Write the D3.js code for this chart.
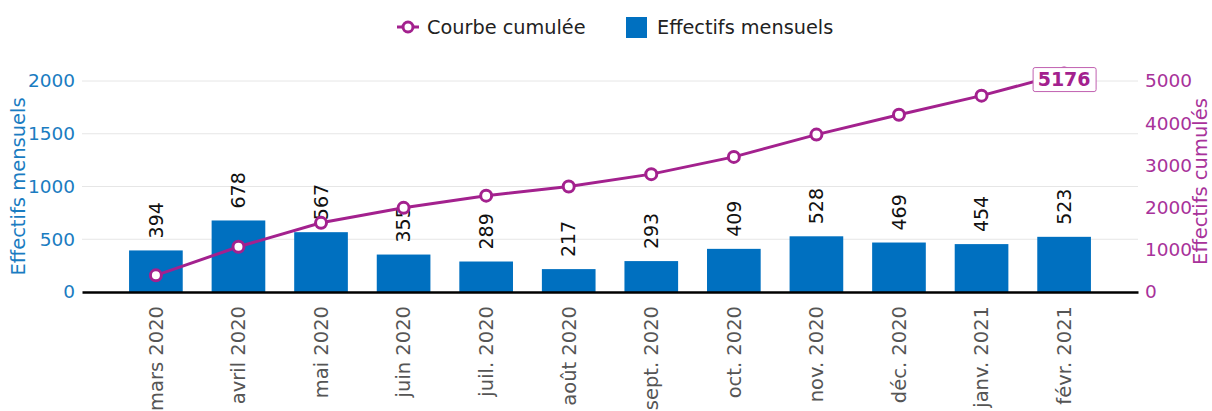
<!DOCTYPE html>
<html>
<head>
<meta charset="utf-8">
<title>Effectifs mensuels et cumulés</title>
<script src="https://cdn.jsdelivr.net/npm/d3@7"></script>
<style>
  body { margin: 0; background: #fff; }
  text { font-family: "DejaVu Sans", sans-serif; }
</style>
</head>
<body>
<script>
// données
var mois = ["mars 2020", "avril 2020", "mai 2020", "juin 2020", "juil. 2020", "août 2020",
            "sept. 2020", "oct. 2020", "nov. 2020", "déc. 2020", "janv. 2021", "févr. 2021"];
var effectifs = [394, 678, 567, 355, 289, 217, 293, 409, 528, 469, 454, 523];
var ticksGauche = [0, 500, 1000, 1500, 2000];
var ticksDroite = [0, 1000, 2000, 3000, 4000, 5000];

var cumul = [];
var total = 0;
effectifs.forEach(function(d) { total += d; cumul.push(total); });

var w = 1212, h = 411;
var bleu = "#0070c0", violet = "#a3218e";
var mLeft = 82, mRight = 1138, mTop = 81, mBottom = 292;

var svg = d3.select("body").append("svg")
  .attr("width", w).attr("height", h);

var x = d3.scaleBand().domain(mois).range([mLeft, mRight])
  .paddingInner(0.35).paddingOuter(0.57);
var yL = d3.scaleLinear().domain([0, 2000]).range([mBottom, mTop]);
var yR = d3.scaleLinear().domain([0, 5000]).range([mBottom, mTop]);

// grille
svg.append("g").selectAll("line").data(ticksGauche.slice(1)).enter().append("line")
  .attr("x1", mLeft).attr("x2", mRight)
  .attr("y1", function(d) { return yL(d); }).attr("y2", function(d) { return yL(d); })
  .attr("stroke", "#e6e6e6").attr("stroke-width", 1);

// axe gauche
var axG = svg.append("g").attr("transform", "translate(" + mLeft + ",0)")
  .call(d3.axisLeft(yL).tickValues(ticksGauche).tickFormat(d3.format("d"))
    .tickSize(0).tickPadding(7));
axG.select(".domain").remove();
axG.selectAll("text").attr("fill", "#1a7cc1").attr("font-size", 18.5)
  .style("font-family", "DejaVu Sans");

// axe droit
var axD = svg.append("g").attr("transform", "translate(" + mRight + ",0)")
  .call(d3.axisRight(yR).tickValues(ticksDroite).tickFormat(d3.format("d"))
    .tickSize(0).tickPadding(7));
axD.select(".domain").remove();
axD.selectAll("text").attr("fill", "#a8329a").attr("font-size", 18.5)
  .style("font-family", "DejaVu Sans");

// titres des axes
svg.append("text").attr("transform", "translate(25," + ((mTop + mBottom) / 2) + ") rotate(-90)")
  .attr("text-anchor", "middle").attr("font-size", 19.5).attr("fill", "#1a7cc1")
  .text("Effectifs mensuels");
svg.append("text").attr("transform", "translate(1207," + ((mTop + mBottom) / 2 - 5) + ") rotate(-90)")
  .attr("text-anchor", "middle").attr("font-size", 19.5).attr("fill", "#a8329a")
  .text("Effectifs cumulés");

// barres
svg.selectAll("rect.bar").data(effectifs).enter().append("rect")
  .attr("class", "bar")
  .attr("x", function(d, i) { return x(mois[i]); })
  .attr("y", function(d) { return yL(d); })
  .attr("width", x.bandwidth())
  .attr("height", function(d) { return mBottom - yL(d); })
  .attr("fill", bleu);

// axe x
var axX = svg.append("g").attr("transform", "translate(0," + mBottom + ")")
  .call(d3.axisBottom(x).tickSize(0).tickPadding(0));
axX.select(".domain").attr("stroke", "#000").attr("stroke-width", 2.5);
axX.selectAll("text")
  .attr("transform", "rotate(-90)")
  .attr("text-anchor", "end")
  .attr("x", -14).attr("y", 0).attr("dy", "0.35em")
  .attr("fill", "#555").attr("font-size", 19.5)
  .style("font-family", "DejaVu Sans");

// étiquettes des barres
svg.selectAll("text.val").data(effectifs).enter().append("text")
  .attr("class", "val")
  .attr("transform", function(d, i) {
    return "translate(" + (x(mois[i]) + x.bandwidth() / 2) + "," + (yL(d) - 12) + ") rotate(-90)";
  })
  .attr("dy", "0.35em")
  .attr("font-size", 19).attr("fill", "#111")
  .text(function(d) { return d; });

// courbe cumulée
var line = d3.line()
  .x(function(d, i) { return x(mois[i]) + x.bandwidth() / 2; })
  .y(function(d) { return yR(d); });
svg.append("path").datum(cumul)
  .attr("d", line).attr("fill", "none")
  .attr("stroke", violet).attr("stroke-width", 3);
svg.selectAll("circle.pt").data(cumul).enter().append("circle")
  .attr("class", "pt")
  .attr("cx", function(d, i) { return x(mois[i]) + x.bandwidth() / 2; })
  .attr("cy", function(d) { return yR(d); })
  .attr("r", 5.5)
  .attr("fill", "#fff").attr("stroke", violet).attr("stroke-width", 3);

// étiquette de la dernière valeur
var last = cumul.length - 1;
var lx = x(mois[last]) + x.bandwidth() / 2, ly = yR(cumul[last]) + 6;
var lab = svg.append("g").attr("transform", "translate(" + lx + "," + ly + ")");
lab.append("rect").attr("x", -31).attr("y", -12).attr("width", 63).attr("height", 24)
  .attr("rx", 2).attr("fill", "#fff").attr("stroke", "#c060b0").attr("stroke-width", 1);
lab.append("text").attr("text-anchor", "middle").attr("dy", "0.35em")
  .attr("font-size", 19).attr("font-weight", "bold").attr("fill", violet)
  .text(cumul[last]);

// légende
var lg = svg.append("g");
lg.append("line").attr("x1", 397).attr("x2", 419).attr("y1", 27).attr("y2", 27)
  .attr("stroke", violet).attr("stroke-width", 3);
lg.append("circle").attr("cx", 408).attr("cy", 27).attr("r", 5)
  .attr("fill", "#fff").attr("stroke", violet).attr("stroke-width", 3);
lg.append("text").attr("x", 427).attr("y", 27).attr("dy", "0.35em")
  .attr("font-size", 19.3).attr("fill", "#222").text("Courbe cumulée");
lg.append("rect").attr("x", 626).attr("y", 17).attr("width", 21).attr("height", 21)
  .attr("fill", bleu);
lg.append("text").attr("x", 657).attr("y", 27).attr("dy", "0.35em")
  .attr("font-size", 19.3).attr("fill", "#222").text("Effectifs mensuels");
</script>
</body>
</html>
